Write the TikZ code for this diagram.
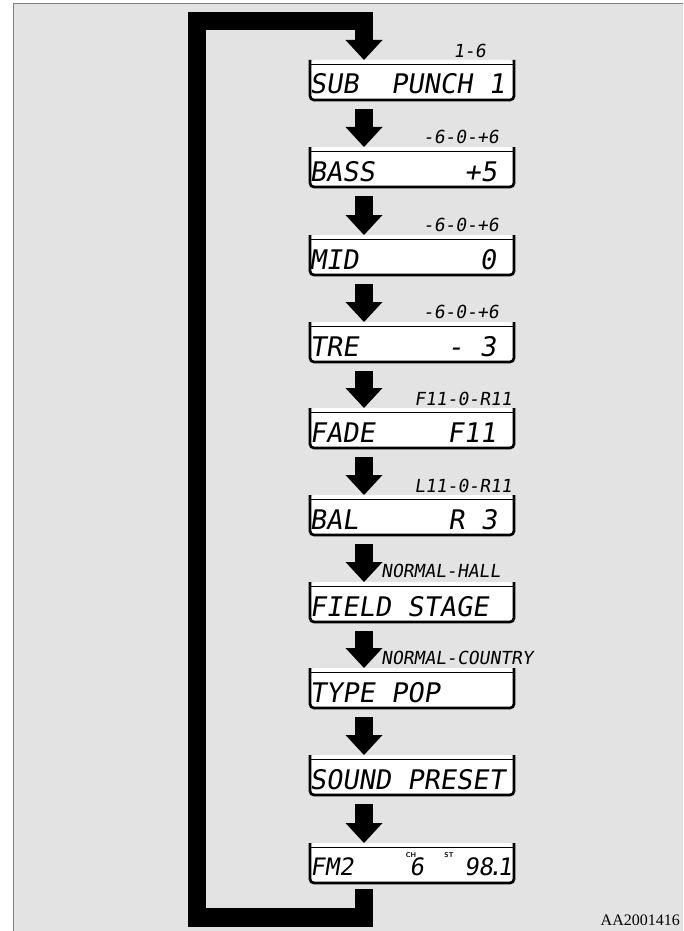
\documentclass[tikz,border=0pt]{standalone}
\usepackage{fontspec}
\usetikzlibrary{calc}
\newfontfamily\lcdfont[FakeSlant=0.16]{DejaVu Sans Mono}
\newfontfamily\tagfont{Liberation Serif}
\definecolor{panel}{HTML}{E3E3E3}
\definecolor{rim}{HTML}{7F7F7F}
\tikzset{
  lcdbox/.style={minimum width=204pt,minimum height=40pt,inner sep=0pt,outer sep=0pt},
  boxrim/.style={line width=2.7pt,rounded corners=4pt},
  boxtop/.style={line width=1.3pt},
  lcdbig/.style={font=\lcdfont\fontsize{27}{27}\selectfont,inner sep=0pt},
  lcdmid/.style={font=\lcdfont\fontsize{24}{24}\selectfont,inner sep=0pt},
  lcdsmall/.style={font=\lcdfont\fontsize{18}{18}\selectfont,inner sep=0pt},
  indic/.style={font=\sffamily\bfseries\fontsize{7}{7}\selectfont,inner sep=0pt},
  shaft/.style={line width=18.5pt},
  loopbar/.style={line width=18.5pt,miter limit=10}
}
\newcommand\lcdpanel[2]{%
  \node[lcdbox] (#1) at (412,#2) {};
  \fill[white,rounded corners=4pt] (#1.north west) -- (#1.south west) -- (#1.south east) -- (#1.north east) -- cycle;
  \draw[boxrim] (#1.north west) -- (#1.south west) -- (#1.south east) -- (#1.north east);
  \draw[boxtop] ([yshift=-4.5pt]#1.north west) -- ([yshift=-4.5pt]#1.north east);
}
\newcommand\arrowhead[1]{%
  \fill ($(#1.north west)+(35.5,-20)$) -- ($(#1.north west)+(72.5,-20)$) -- ($(#1.north west)+(54,0)$) -- cycle;
}
\newcommand\stepdown[2]{%
  \draw[shaft] ($(#1.south west)+(54,9)$) -- ($(#2.north west)+(54,-19.5)$);
  \arrowhead{#2}
}
\begin{document}
\begin{tikzpicture}[x=1pt,y=-1pt]
\useasboundingbox (0,0) rectangle (683,931);
\fill[panel] (13.5,3.5) rectangle (683,931);
\draw[rim,line width=1pt] (13.5,931) -- (13.5,3.5) -- (683,3.5);

\lcdpanel{b1}{80}
\lcdpanel{b2}{167}
\lcdpanel{b3}{255}
\lcdpanel{b4}{342}
\lcdpanel{b5}{428}
\lcdpanel{b6}{515}
\lcdpanel{b7}{602}
\lcdpanel{b8}{688}
\lcdpanel{b9}{775}
\lcdpanel{b10}{863}

\stepdown{b1}{b2}
\stepdown{b2}{b3}
\stepdown{b3}{b4}
\stepdown{b4}{b5}
\stepdown{b5}{b6}
\stepdown{b6}{b7}
\stepdown{b7}{b8}
\stepdown{b8}{b9}
\stepdown{b9}{b10}

\coordinate (loopbl) at (197,917.5);
\coordinate (looptl) at (197,21);
\draw[loopbar] ($(b10.south west)+(54,6)$) |- (loopbl) -- (looptl) -| ($(b1.north west)+(54,-19.5)$);
\arrowhead{b1}

% box texts
\node[lcdbig,anchor=base west] (t1) at (309.5,94) {SUB\ \ PUNCH\ 1};
\node[lcdbig,anchor=base west] (t2) at (309.5,181) {BASS};
\node[lcdbig,anchor=base east] (v2) at (497,181) {+5};
\node[lcdbig,anchor=base west] (t3) at (309.5,269) {MID};
\node[lcdbig,anchor=base east] (v3) at (496,269) {0};
\node[lcdbig,anchor=base west] (t4) at (309.5,356) {TRE};
\node[lcdbig,anchor=base east] (v4) at (496,356) {-\ 3};
\node[lcdbig,anchor=base west] (t5) at (309.5,442) {FADE};
\node[lcdbig,anchor=base east] (v5) at (496,442) {F11};
\node[lcdbig,anchor=base west] (t6) at (309.5,529) {BAL};
\node[lcdbig,anchor=base east] (v6) at (497,529) {R\ 3};
\node[lcdbig,anchor=base west] (t7) at (309.5,616) {FIELD\ STAGE};
\node[lcdbig,anchor=base west] (t8) at (309.5,702) {TYPE\ POP};
\node[lcdbig,anchor=base west] (t9) at (309.5,789) {SOUND\ PRESET};
\node[lcdmid,anchor=base west] (t10) at (310,875) {FM2};
\node[lcdmid,anchor=base] (v10a) at (416.5,875) {6};
\node[lcdmid,anchor=base east] (v10b) at (512,875) {98\kern-5pt.\kern-5pt1};
\node[indic,anchor=base] (ch) at (411,857) {CH};
\node[indic,anchor=base] (st) at (449,857) {ST};

% range labels
\node[lcdsmall,anchor=base east] (l1) at (486,58) {1-6};
\node[lcdsmall,anchor=base east] (l2) at (499,143) {-6-0-+6};
\node[lcdsmall,anchor=base east] (l3) at (499,231) {-6-0-+6};
\node[lcdsmall,anchor=base east] (l4) at (499,318) {-6-0-+6};
\node[lcdsmall,anchor=base east] (l5) at (512,405) {F11-0-R11};
\node[lcdsmall,anchor=base east] (l6) at (512,492) {L11-0-R11};
\node[lcdsmall,anchor=base west] (l7) at (381,577) {NORMAL-HALL};
\node[lcdsmall,anchor=base west] (l8) at (381,664) {NORMAL-COUNTRY};

\node[font=\tagfont\fontsize{16}{16}\selectfont,anchor=base east,inner sep=0pt] (code) at (680,925) {AA2001416};
\end{tikzpicture}
\end{document}
